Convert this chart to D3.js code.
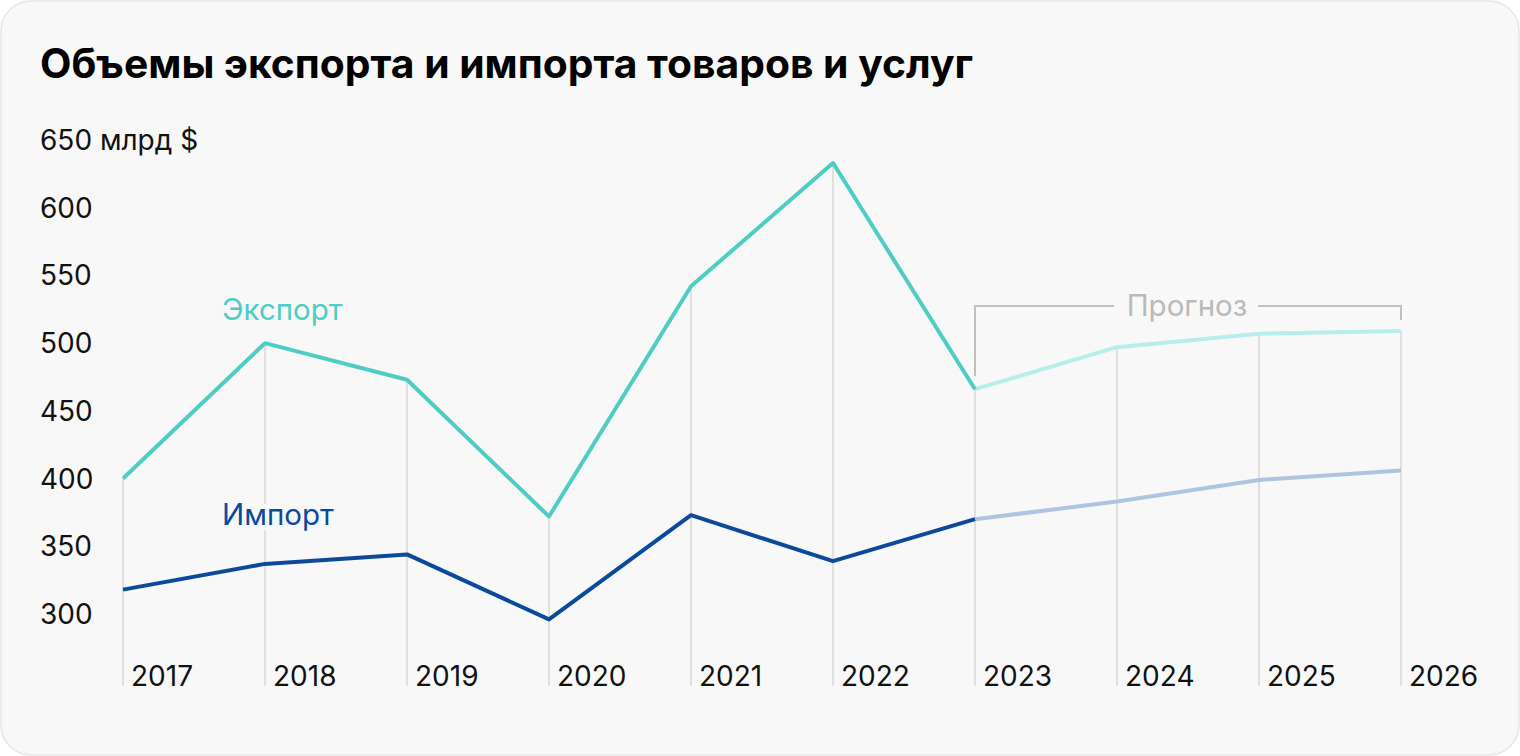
<!DOCTYPE html>
<html>
<head>
<meta charset="utf-8">
<script src="https://cdn.jsdelivr.net/npm/d3@7"></script>
<style>
  body { margin: 0; background: #fff; }
  svg { display: block; font-family: Inter, "Noto Sans", sans-serif; }
</style>
</head>
<body>
<svg width="1520" height="756"></svg>
<script>
const years = [2017, 2018, 2019, 2020, 2021, 2022, 2023, 2024, 2025, 2026]
const exportVals = [400, 500, 473, 372, 542, 633, 466, 497, 507, 509]
const importVals = [318, 337, 344, 296, 373, 339, 370, 383, 399, 406]
const yTicks = [300, 350, 400, 450, 500, 550, 600, 650]
const forecastFrom = 2023

const BG = '#f8f8f8'
const svg = d3.select('svg')

svg.append('rect')
  .attr('x', 1).attr('y', 1).attr('width', 1518).attr('height', 754)
  .attr('rx', 30).attr('fill', BG).attr('stroke', '#e6e6e6').attr('stroke-width', 1.5)

svg.append('text').text('Объемы экспорта и импорта товаров и услуг')
  .attr('x', 40).attr('y', 78)
  .attr('font-size', 40.8).attr('font-weight', 700).attr('fill', '#000')

const x = d3.scaleLinear().domain([2017, 2026]).range([123, 1401])
const y = d3.scaleLinear().domain([300, 650]).range([614, 140])
const bottomY = 686

// y labels
svg.selectAll('.ylab').data(yTicks).join('text')
  .attr('x', 40).attr('y', d => y(d) + 10)
  .attr('font-size', 28).attr('fill', '#111')
  .text(d => d === 650 ? '650 млрд $' : d)

// vertical grid
const gridTop = years.map((yr, i) => Math.min(y(exportVals[i]), y(importVals[i])))
svg.selectAll('.grid').data(years).join('line')
  .attr('x1', d => x(d)).attr('x2', d => x(d))
  .attr('y1', (d, i) => gridTop[i]).attr('y2', bottomY)
  .attr('stroke', '#e0e0e0').attr('stroke-width', 2)

// x labels
svg.selectAll('.xlab').data(years).join('text')
  .attr('x', d => x(d) + 8).attr('y', 686)
  .attr('font-size', 28).attr('fill', '#111')
  .text(d => d)

// forecast bracket
const fx0 = x(forecastFrom), fx1 = x(2026), fy = 306
svg.append('path')
  .attr('d', `M ${fx0},${fy + 70} V ${fy} H ${fx0 + 139} M ${fx1 - 143},${fy} H ${fx1} V ${fy + 14}`)
  .attr('fill', 'none').attr('stroke', '#c0c0c0').attr('stroke-width', 2)
svg.append('text').text('Прогноз')
  .attr('x', (fx0 + fx1) / 2 - 1).attr('y', fy + 10)
  .attr('text-anchor', 'middle').attr('font-size', 29.5).attr('fill', '#bababa')

const line = d3.line().x(d => x(d[0])).y(d => y(d[1]))
const series = [
  {vals: exportVals, color: '#4ecdc4', light: '#b5eeea'},
  {vals: importVals, color: '#0b4a9b', light: '#aec4e1'}
]
series.forEach(s => {
  const pts = years.map((yr, i) => [yr, s.vals[i]])
  const fi = years.indexOf(forecastFrom)
  svg.append('path').attr('d', line(pts.slice(fi)))
    .attr('fill', 'none').attr('stroke', s.light).attr('stroke-width', 4)
    .attr('stroke-linejoin', 'round')
  svg.append('path').attr('d', line(pts.slice(0, fi + 1)))
    .attr('fill', 'none').attr('stroke', s.color).attr('stroke-width', 4)
    .attr('stroke-linejoin', 'round')
})

// series labels
const addLabel = (text, xx, yy, color) => {
  svg.append('text').text(text)
    .attr('x', xx).attr('y', yy)
    .attr('font-size', 29.5).attr('fill', color)
    .attr('stroke', BG).attr('stroke-width', 10).attr('paint-order', 'stroke')
}
addLabel('Экспорт', 222, 320, '#4ecdc4')
addLabel('Импорт', 222, 525, '#0b4a9b')
</script>
</body>
</html>
